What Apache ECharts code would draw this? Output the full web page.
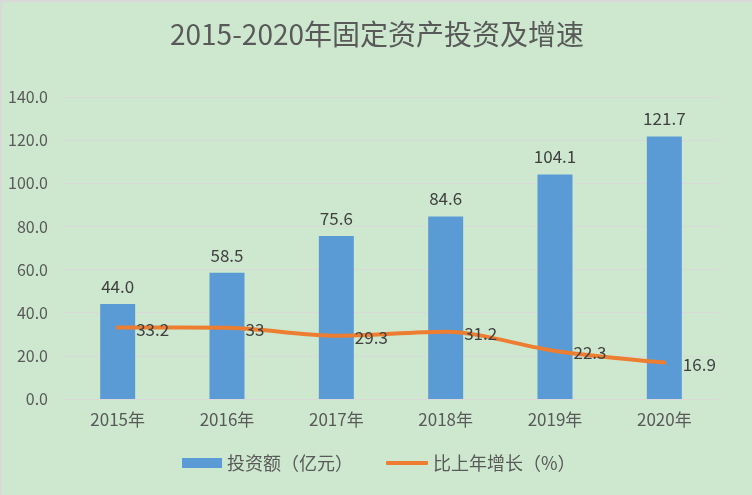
<!DOCTYPE html>
<html>
<head>
<meta charset="utf-8">
<script src="https://cdn.jsdelivr.net/npm/echarts@6/dist/echarts.min.js"></script>
<style>
  html, body { margin: 0; padding: 0; background: #d9d9d9; }
  #main { position: absolute; left: 2px; top: 2px; width: 750px; height: 493px; }
</style>
</head>
<body>
<div id="main"></div>
<script>
  const years = ['2015年', '2016年', '2017年', '2018年', '2019年', '2020年']
  const investment = [44.0, 58.5, 75.6, 84.6, 104.1, 121.7]
  const growth = [33.2, 33, 29.3, 31.2, 22.3, 16.9]
  const yTicks = { min: 0, max: 140, interval: 20 }

  const font = '"Noto Sans CJK SC", "Noto Sans", sans-serif'
  const legendText = { fontSize: 18, color: '#595959', fontFamily: font }
  const chart = echarts.init(document.getElementById('main'))
  chart.setOption({
    backgroundColor: '#cde8cf',
    textStyle: { fontFamily: font },
    title: {
      text: '2015-2020年固定资产投资及增速',
      left: 'center',
      top: 13,
      textStyle: { fontSize: 28, fontWeight: 'normal', color: '#595959', fontFamily: font },
    },
    grid: { left: 61, right: 33, top: 95, bottom: 96 },
    legend: [
      {
        left: 175,
        bottom: 18,
        itemWidth: 40,
        itemHeight: 10,
        itemGap: 6,
        textStyle: legendText,
        data: [{ name: '投资额（亿元）', icon: 'rect' }],
      },
      {
        left: 379,
        bottom: 18,
        itemWidth: 42,
        itemHeight: 4,
        textStyle: legendText,
        data: [{ name: '比上年增长（%）', icon: 'roundRect' }],
      },
    ],
    xAxis: {
      type: 'category',
      data: years,
      axisLine: { lineStyle: { color: '#d9d9d9' } },
      axisTick: { show: false },
      axisLabel: { color: '#595959', fontSize: 17, margin: 12, fontFamily: font },
    },
    yAxis: {
      type: 'value',
      min: yTicks.min,
      max: yTicks.max,
      interval: yTicks.interval,
      axisLine: { show: false },
      axisTick: { show: false },
      splitLine: { lineStyle: { color: '#d9d9d9', width: 1 } },
      axisLabel: {
        color: '#595959',
        fontSize: 16,
        margin: 15,
        fontFamily: font,
        formatter: (v) => v.toFixed(1),
      },
    },
    series: [
      {
        name: '投资额（亿元）',
        type: 'bar',
        data: investment,
        barWidth: '32%',
        itemStyle: { color: '#5b9bd5' },
        label: {
          show: true,
          position: 'top',
          distance: 9,
          fontSize: 17,
          color: '#404040',
          fontFamily: font,
          formatter: ({ value }) => value.toFixed(1),
        },
      },
      {
        name: '比上年增长（%）',
        type: 'line',
        data: growth,
        smooth: 0.3,
        symbol: 'circle',
        symbolSize: 1,
        itemStyle: { color: '#ed7d31' },
        lineStyle: { color: '#ed7d31', width: 4, cap: 'round' },
        label: {
          show: true,
          position: 'right',
          distance: 18,
          offset: [0, 2],
          fontSize: 17,
          color: '#404040',
          fontFamily: font,
        },
      },
    ],
  })
</script>
</body>
</html>
